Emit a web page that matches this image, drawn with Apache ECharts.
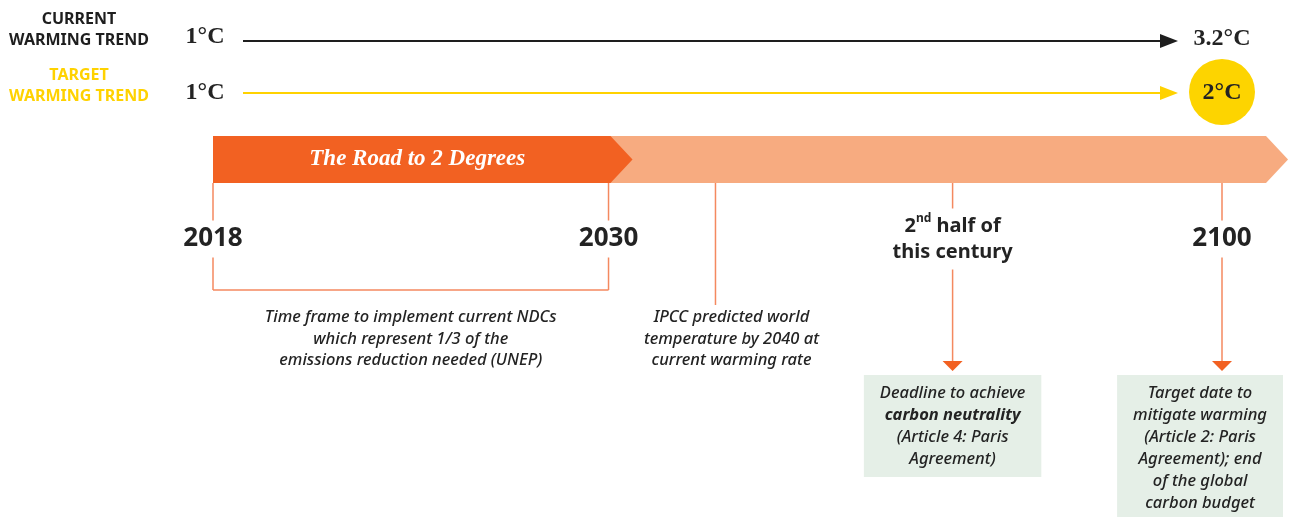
<!DOCTYPE html>
<html>
<head>
<meta charset="utf-8">
<script src="https://cdn.jsdelivr.net/npm/echarts@6/dist/echarts.min.js"></script>
<style>
  html, body { margin: 0; padding: 0; background: #fff; }
  #chart { width: 1290px; height: 517px; }
</style>
</head>
<body>
<div id="chart"></div>
<script>
// warming trends (°C today -> °C by 2100)
const trendNames = ['CURRENT\nWARMING TREND', 'TARGET\nWARMING TREND'];
const startTemps = [1, 1];
const endTemps = [3.2, 2];

// the road: milestones placed along a schematic timeline (0 = 2018, 100 = 2100)
const roadTitle = 'The Road to 2 Degrees';
const milestoneLabels = ['2018', '2030', '', '2{sup|nd} half of\nthis century', '2100'];
const milestoneSlots = [0, 39.2, 49.8, 73.3, 100];
const milestoneNotes = [
  '',
  '',
  'IPCC predicted world\ntemperature by 2040 at\ncurrent warming rate',
  'Deadline to achieve\n{b|carbon neutrality}\n(Article 4: Paris\nAgreement)',
  'Target date to\nmitigate warming\n(Article 2: Paris\nAgreement); end\nof the global\ncarbon budget'
];
const spanNote = 'Time frame to implement current NDCs\nwhich represent 1/3 of the\nemissions reduction needed (UNEP)';

const sans = '"Noto Sans", "Open Sans", sans-serif';
const serif = '"Liberation Serif", "DejaVu Serif", serif';
const ink = '#232323';
const lineOrange = '#F4895F';
const deepOrange = '#F26122';
const paleOrange = '#F7AB80';
const boxFill = '#E5EFE7';
const trendColors = ['#1E1E1E', '#FFD200'];
const noteSize = 16.5;

const measure = document.createElement('canvas').getContext('2d');
function textWidth (s, font) {
  measure.font = font;
  return measure.measureText(s).width;
}

const chart = echarts.init(document.getElementById('chart'));

function renderTrend (params, api) {
  const i = params.dataIndex;
  const x0 = api.coord([0, 0])[0];
  const x1 = api.coord([100, 0])[0];
  const color = trendColors[i];
  const lineY = [41, 93][i];
  const children = [
    {
      type: 'text',
      style: {
        text: trendNames[i], x: 79, y: [30, 86][i], align: 'center', verticalAlign: 'middle',
        fontFamily: sans, fontWeight: 'bold', fontSize: 16, lineHeight: 21, fill: color
      }
    },
    {
      type: 'text',
      style: {
        text: api.value(1) + '°C', x: x0 - 8, y: [37, 93][i], align: 'center', verticalAlign: 'middle',
        fontFamily: serif, fontWeight: 'bold', fontSize: 24, fill: ink
      }
    },
    {
      type: 'line',
      shape: { x1: x0 + 30, y1: lineY, x2: x1 - 60, y2: lineY },
      style: { stroke: color, lineWidth: 2 }
    },
    {
      type: 'polygon',
      shape: { points: [[x1 - 62, lineY - 7], [x1 - 44, lineY], [x1 - 62, lineY + 7]] },
      style: { fill: color }
    }
  ];
  if (i === 1) {
    children.push({ type: 'circle', shape: { cx: x1, cy: 92, r: 33 }, style: { fill: '#FDD400' } });
  }
  children.push({
    type: 'text',
    style: {
      text: api.value(2) + '°C', x: x1, y: [39, 93][i], align: 'center', verticalAlign: 'middle',
      fontFamily: serif, fontWeight: 'bold', fontSize: 24, fill: ink
    }
  });
  return { type: 'group', children };
}

function renderRoad (params, api) {
  const xa = api.coord([api.value(0), 0])[0];
  const xb = api.coord([api.value(1), 0])[0];
  const top = 136;
  const bottom = 183;
  const mid = (top + bottom) / 2;
  if (params.dataIndex === 1) {
    const end = xb + 44;
    return {
      type: 'polygon',
      z2: 1,
      shape: { points: [[xa, top], [end, top], [end + 22, mid], [end, bottom], [xa, bottom]] },
      style: { fill: paleOrange }
    };
  }
  const end = xb + 2;
  return {
    type: 'group',
    children: [
      {
        type: 'polygon',
        z2: 5,
        shape: { points: [[xa, top], [end, top], [end + 22, mid], [end, bottom], [xa, bottom]] },
        style: { fill: deepOrange }
      },
      {
        type: 'text',
        z2: 6,
        style: {
          text: roadTitle, x: (xa + end + 11) / 2, y: mid, align: 'center', verticalAlign: 'middle',
          fontFamily: serif, fontWeight: 'bold', fontStyle: 'italic', fontSize: 23, fill: '#fff'
        }
      }
    ]
  };
}

function renderSpan (params, api) {
  const xa = api.coord([api.value(0), 0])[0];
  const xb = api.coord([api.value(1), 0])[0];
  return {
    type: 'group',
    children: [
      { type: 'line', shape: { x1: xa, y1: 290, x2: xb, y2: 290 }, style: { stroke: lineOrange, lineWidth: 1.5 } },
      {
        type: 'text',
        style: {
          text: spanNote, x: (xa + xb) / 2, y: 307, align: 'center', verticalAlign: 'top',
          fontFamily: sans, fontStyle: 'italic', fontWeight: 500, fontSize: noteSize, lineHeight: 21.5, fill: ink
        }
      }
    ]
  };
}

function renderMilestone (params, api) {
  const i = params.dataIndex;
  const x = api.coord([api.value(0), 0])[0];
  const label = milestoneLabels[i];
  const note = milestoneNotes[i];
  const barBottom = 183;
  const els = [];
  const tick = (y1, y2) => els.push({
    type: 'line', shape: { x1: x, y1, x2: x, y2 }, style: { stroke: lineOrange, lineWidth: 1.5 }
  });
  if (!label) {
    tick(barBottom, 305);
    els.push({
      type: 'text',
      style: {
        text: note, x: x + 16, y: 307, align: 'center', verticalAlign: 'top',
        fontFamily: sans, fontStyle: 'italic', fontWeight: 500, fontSize: noteSize, lineHeight: 21.5, fill: ink
      }
    });
    return { type: 'group', children: els };
  }
  const nLines = label.split('\n').length;
  const labelY = 239;
  const half = 6.5 + 12 * nLines;
  tick(barBottom, labelY - half);
  els.push({
    type: 'text',
    style: {
      text: label, x, y: labelY, align: 'center', verticalAlign: 'middle',
      fontFamily: sans, fontWeight: 'bold', fontSize: nLines > 1 ? 20 : 26, lineHeight: 26, fill: ink,
      rich: {
        sup: { fontFamily: sans, fontWeight: 'bold', fontSize: 12, lineHeight: 26, verticalAlign: 'top', fill: ink }
      }
    }
  });
  if (!note) {
    tick(labelY + half, 290);
    return { type: 'group', children: els };
  }
  tick(labelY + half, 362);
  els.push({
    type: 'polygon',
    shape: { points: [[x - 10, 361], [x + 10, 361], [x, 371]] },
    style: { fill: deepOrange }
  });
  const plainFont = 'italic 500 ' + noteSize + 'px ' + sans;
  const boldFont = 'italic bold ' + noteSize + 'px ' + sans;
  let widest = 0;
  note.split('\n').forEach((line) => {
    const bold = line.indexOf('{b|') === 0;
    const txt = line.replace(/\{b\|(.*)\}/, '$1');
    widest = Math.max(widest, textWidth(txt, bold ? boldFont : plainFont));
  });
  const boxW = widest + 32;
  const cx = Math.min(x, api.getWidth() - 7 - boxW / 2);
  els.push({
    type: 'text',
    style: {
      text: note, x: cx, y: 375, align: 'center', verticalAlign: 'top',
      fontFamily: sans, fontStyle: 'italic', fontWeight: 500, fontSize: noteSize, lineHeight: 22, fill: ink,
      width: widest, backgroundColor: boxFill, padding: [7, 16, 7, 16],
      rich: {
        b: { fontFamily: sans, fontStyle: 'italic', fontWeight: 'bold', fontSize: noteSize, lineHeight: 22, fill: ink }
      }
    }
  });
  return { type: 'group', children: els };
}

const option = {
  animation: false,
  backgroundColor: '#fff',
  grid: { left: 213, right: 68, top: 0, bottom: 0 },
  xAxis: { type: 'value', min: 0, max: 100, show: false },
  yAxis: { type: 'value', min: 0, max: 1, show: false },
  series: [
    {
      type: 'custom',
      name: 'trends',
      renderItem: renderTrend,
      data: trendNames.map((n, i) => [i, startTemps[i], endTemps[i]])
    },
    {
      type: 'custom',
      name: 'road',
      renderItem: renderRoad,
      data: [
        [milestoneSlots[0], milestoneSlots[1]],
        [milestoneSlots[1], milestoneSlots[4]]
      ]
    },
    {
      type: 'custom',
      name: 'span',
      renderItem: renderSpan,
      data: [[milestoneSlots[0], milestoneSlots[1]]]
    },
    {
      type: 'custom',
      name: 'milestones',
      renderItem: renderMilestone,
      data: milestoneSlots.map((s, i) => [s, i])
    }
  ]
};

chart.setOption(option);
</script>
</body>
</html>
